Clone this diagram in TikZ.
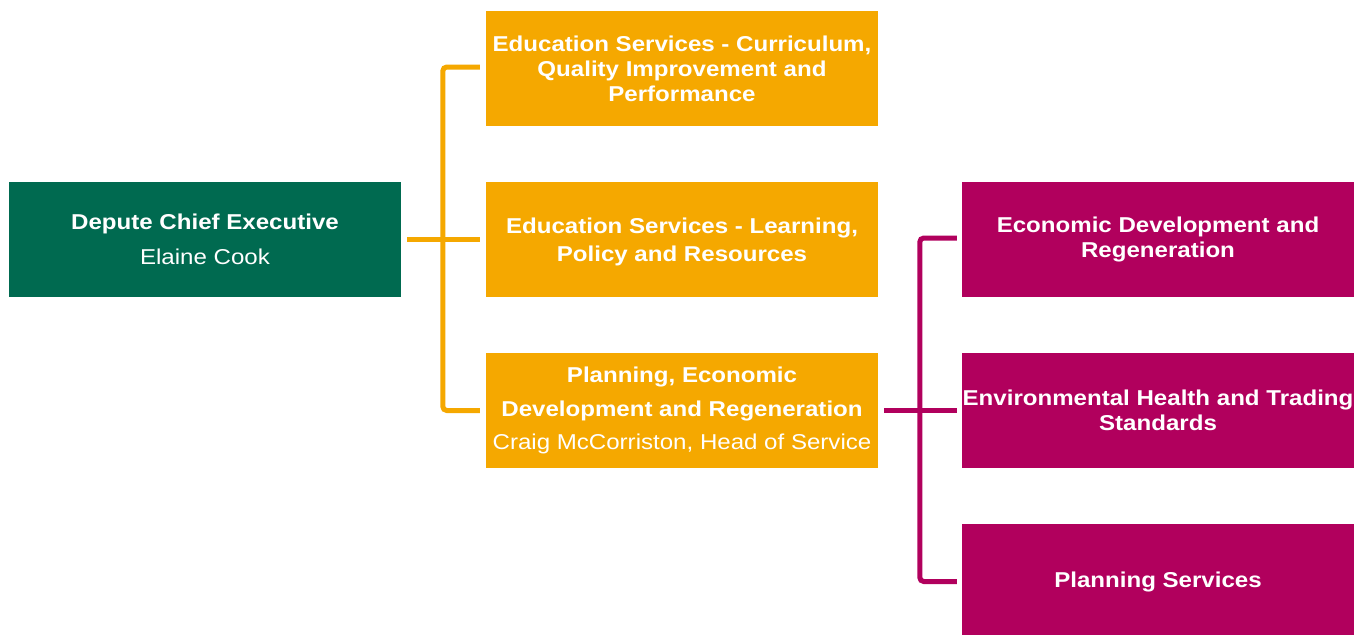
\documentclass[tikz,border=0pt]{standalone}
\usepackage{fontspec}
\setmainfont{Liberation Sans}[FakeStretch=1.12]
\definecolor{dgreen}{RGB}{0,106,80}
\definecolor{orng}{RGB}{245,168,0}
\definecolor{mgnt}{RGB}{177,0,93}
\tikzset{
  txt/.style={inner sep=0pt, text=white, align=center, font=\fontsize{21.5pt}{25pt}\selectfont},
  box/.style={txt, rectangle, minimum width=392pt, minimum height=115pt},
  gbox/.style={box, fill=dgreen},
  obox/.style={box, fill=orng},
  mbox/.style={box, fill=mgnt},
  oline/.style={draw=orng, line width=5pt, rounded corners=4pt},
  mline/.style={draw=mgnt, line width=5pt, rounded corners=4pt},
}
\begin{document}
\begin{tikzpicture}[x=1pt,y=-1pt]
\useasboundingbox (0,0) rectangle (1364,634);
\node[gbox] (dce) at (205,239.5) {\textbf{Depute Chief Executive}\\[10pt]Elaine Cook};
\node[obox] (ob1) at (682,68.5) {\textbf{Education Services - Curriculum,}\\\textbf{Quality Improvement and}\\\textbf{Performance}};
\node[obox] (ob2) at (682,239.5) {};
\node[txt] (ob2t) at ([yshift=-2.5pt]ob2.center) {\textbf{Education Services - Learning,}\\[3pt]\textbf{Policy and Resources}};
\node[obox] (ob3) at (682,410.5) {\textbf{Planning, Economic}\\[9pt]\textbf{Development and Regeneration}\\[8pt]Craig McCorriston, Head of Service};
\node[mbox] (mb1) at (1158,239.5) {\textbf{Economic Development and}\\\textbf{Regeneration}};
\node[mbox] (mb2) at (1158,410.5) {\textbf{Environmental Health and Trading}\\\textbf{Standards}};
\node[mbox] (mb3) at (1158,581.5) {\textbf{Planning Services}};
% orange connectors
\draw[oline] ([xshift=-6pt,yshift=1.5pt]ob1.west) -| ([xshift=-43pt]ob3.west) -- ([xshift=-6pt]ob3.west);
\draw[oline] ([xshift=6pt]dce.east) -- ([xshift=-6pt]ob2.west);
% magenta connectors
\draw[mline] ([xshift=-5pt,yshift=1.5pt]mb1.west) -| ([xshift=-42pt]mb3.west) -- ([xshift=-5pt]mb3.west);
\draw[mline] ([xshift=6pt]ob3.east) -- ([xshift=-5pt]mb2.west);
\end{tikzpicture}
\end{document}
